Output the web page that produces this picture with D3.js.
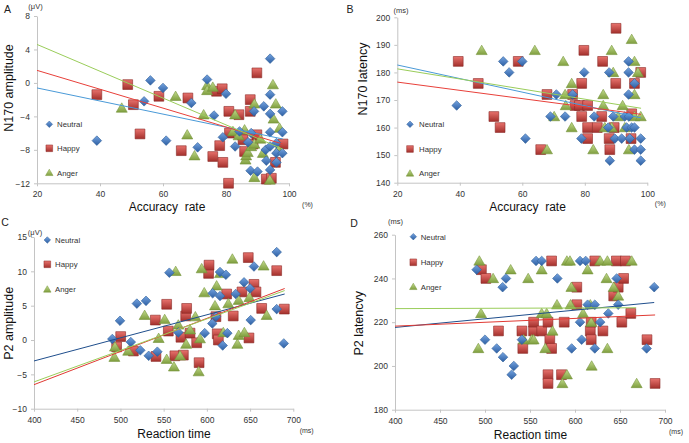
<!DOCTYPE html>
<html>
<head>
<meta charset="utf-8">
<script src="https://cdn.jsdelivr.net/npm/d3@7/dist/d3.min.js"></script>
<style>
  body { margin: 0; background: #fff; }
  svg text { font-family: "Liberation Sans", Arial, sans-serif; }
</style>
</head>
<body>
<div class="chart"></div>
<script>
// ---- data ----
var accTicks = [20, 40, 60, 80, 100];
var rtTicks = [400, 450, 500, 550, 600, 650, 700];
var aYTicks = [-12, -8, -4, 0, 4, 8];
var bYTicks = [140, 150, 160, 170, 180, 190, 200];
var cYTicks = [-10, -5, 0, 5, 10, 15];
var dYTicks = [180, 200, 220, 240, 260];
var seriesNames = ["Neutral", "Happy", "Anger"];

// A: accuracy rate vs N170 amplitude
var aNeutral = [[39,-6.9],[54,-2.2],[56,0.3],[60,-0.6],[61,-6.9],[69,-2.4],[71,-7.7],[74,0.4],[76.2,-3.9],[79,-6.5],[80,-1.3],[82.9,-7.6],[84.3,-5.8],[87,-7.1],[87.8,-10.5],[88,-6.0],[88.9,-3.4],[90,-10.6],[92,-2.8],[92.6,-8.0],[92.8,-9.3],[94,2.9],[94,-1.4],[94,-3.7],[94,-5.9],[94,-7.6],[94,-10.4],[96,-7.2],[96,-8.4],[96,-9.5],[97.9,-3.4],[97.9,-5.9],[97.9,-8.4]];
var aHappy = [[39,-1.4],[48.8,-0.2],[50.6,-2.6],[52.7,-6.1],[58.7,-1.6],[65.8,-8.1],[67.9,-1.8],[75.8,-8.8],[77,-1],[78,-7.5],[78.8,-0.7],[79,-9.5],[80.8,-12],[80.9,-3.4],[81.1,-6.0],[84.1,-3.8],[85.2,-6.2],[85.4,-6.8],[85.9,-8.2],[87.7,-2.0],[87.7,-3.4],[88.6,-7.3],[89.8,1.2],[89.8,-6.2],[92.8,-11.5],[94.4,-11.4],[95.7,-9.5],[98.1,-7.3]];
var aAnger = [[46.9,-3.0],[64,-1.6],[67.7,-6.2],[70,-8.7],[72.9,-3.8],[74,-0.3],[74,-0.9],[75.8,-0.5],[82.2,-5.8],[82.9,-3.8],[84,-6.3],[85.9,-5.6],[86.2,-9.2],[86.4,-8.7],[86.9,-8.3],[88,-7.6],[89,-2.5],[89,-7.3],[89,-11.3],[90.9,-6.7],[91.7,-8.4],[93.9,-11.6],[94.9,-0.2],[95.1,-4.3],[95.8,-2.5],[96.5,-8.0],[97,-5.4]];
var aFits = [[[20,-0.6],[98,-6.7]], [[20,1.5],[98,-7.3]], [[20,4.6],[98,-7.9]]];

// B: accuracy rate vs N170 latency
var bNeutral = [[39,168],[53.9,184],[55.8,180],[60,184],[61,156],[69,164],[70.9,172],[73.7,164],[76.1,172],[78.9,156],[79.8,180],[83,164],[87.5,160],[87.8,180],[88,148],[89.1,164],[89.6,156],[91.8,156],[92.8,164],[93.4,160],[94,184],[94,180],[94,172],[94.1,164],[94.4,156],[95,160],[95.9,160],[95.9,176],[95.9,152],[97.9,156],[97.9,152],[97.9,148]];
var bHappy = [[39.5,184],[45.9,176],[50.9,164],[52.9,160],[58.7,184],[65.9,152],[67.9,172],[76.1,172],[76.9,168],[78.3,168],[79,176],[79,164],[79.7,188],[80.9,168],[80.9,160],[80.9,156],[84,160],[85.4,164],[85.7,184],[87.8,156],[88,152],[89.4,160],[89.9,176],[90,196],[94.8,156],[95,165],[95.9,176],[97.9,180]];
var bAnger = [[47,188],[64,188],[67.9,152],[70.2,164],[73.1,184],[73.7,172],[73.9,168],[75.8,176],[75.8,160],[82.7,152],[85.9,172],[85.9,168],[86.4,160],[88.6,188],[88.6,160],[89.1,180],[90.7,164],[92.1,168],[92.8,160],[94.1,152],[95,192],[95.9,184],[95.9,172],[95.9,164],[97,180],[97.9,164]];
var bFits = [[[20,182.7],[98,163.5]], [[20,176.5],[98,164.8]], [[20,181.3],[98,167]]];

// C: reaction time vs P2 amplitude
var cNeutral = [[490.6,0.15],[499.5,2.8],[512,-0.3],[519,5.3],[523,-1.5],[529.6,5.7],[532.7,-2.3],[542.7,-1.7],[556.6,9.8],[567,1.1],[597.5,1.0],[606.3,2.4],[606.7,6.8],[610.5,3.4],[615.2,9.9],[615.2,6.4],[618.3,-0.8],[622,9.5],[623.7,1.0],[633.3,6.7],[643,8.4],[650,7.5],[650.7,2.9],[654.5,10.7],[680.8,12.8],[680.8,4.5],[689,-0.5]];
var cHappy = [[495.6,-1],[500.3,0.5],[515,-1.6],[540.4,2.9],[541.1,-2.4],[553.5,5.2],[555.4,1.3],[563,-2.3],[570,0.4],[572.8,-2.2],[575.5,3.5],[576.6,4.6],[580.5,1.0],[588.2,-0.4],[591,-3.3],[602,9.7],[602.5,10.9],[610.5,3.4],[612,0.9],[613.3,0.0],[622.9,6.7],[630.5,3.5],[640.6,7.0],[647.9,12],[648.7,0.3],[654.5,8.1],[656.8,7.0],[663.4,4.6],[680.8,10.1],[689.6,4.5]];
var cAnger = [[493,-2.5],[493.7,-1.0],[509,-1.6],[528,3.6],[544.2,0.25],[551.2,3.0],[553.5,-2.8],[561.9,-3.9],[563.9,10],[567,2.2],[569,-2.3],[576,-0.6],[580.5,1.5],[586.7,3.4],[590.5,-4.6],[592,0.2],[594,10.4],[597,6.9],[609.4,5.0],[611.3,7.9],[615.2,9.7],[619,1.1],[624.8,5.3],[629.5,11.8],[635.3,-0.6],[636.8,0.7],[636.8,5.8],[643.4,1.1],[649.2,6.2],[665.6,10.8],[669.2,3.6]];
var cFits = [[[400,-3.05],[690,6.7]], [[400,-6.5],[690,7.5]], [[400,-6.1],[690,7.2]]];

// D: reaction time vs P2 latency
var dNeutral = [[490.7,244],[500,212],[513,208],[519.6,236],[520,204],[523.3,240],[529.6,196],[532,200],[541,212],[556.7,248],[563,248],[580.4,240],[596.3,208],[605.6,248],[605.6,220],[607.4,212],[611.9,248],[614,228],[622,228],[622,208],[628,220],[637,224],[646.3,240],[648,228],[679.6,208],[688,236]];
var dHappy = [[496,244],[501,240],[515,216],[541,216],[542,208],[554,216],[554,220],[563,216],[570,220],[570,196],[570,192],[572,212],[574,248],[574,208],[585,196],[588,220],[602,236],[602,228],[617,216],[618,212],[618,220],[622,248],[631,216],[643,232],[646,248],[648,236],[652,220],[654,240],[656,248],[662,224],[680,212],[689,192]];
var dAnger = [[492.6,208],[493.7,248],[495.6,224],[509,240],[528.5,244],[543,212],[548,240],[552,212],[554,212],[563,244],[563,224],[567,208],[568.5,224],[575,216],[580,228],[586,192],[591,248],[591,196],[594.4,248],[595,228],[596,236],[609,224],[614,244],[617,228],[618,220],[618.5,200],[628,248],[635,240],[636,248],[636,208],[643,236],[648,232],[663,248],[668.5,192]];
var dFits = [[[400,217.6],[688,229]], [[400,218.2],[689,223.3]], [[400,226.2],[668,226.6]]];

// ---- drawing ----
var svg = d3.select(".chart").append("svg")
  .attr("width", 689)
  .attr("height", 443);

var defs = svg.append("defs");
function grad(id, c1, c2) {
  var g = defs.append("linearGradient").attr("id", id)
    .attr("x1", 0).attr("y1", 0).attr("x2", 0).attr("y2", 1);
  g.append("stop").attr("offset", "0%").attr("stop-color", c1);
  g.append("stop").attr("offset", "100%").attr("stop-color", c2);
}
grad("gBlue", "#74a3e0", "#2d5fa3");
grad("gRed", "#e8726d", "#a3302c");
grad("gGreen", "#c3dc8e", "#7f9e3e");

var fills = ["url(#gBlue)", "url(#gRed)", "url(#gGreen)"];
var strokes = ["#2f5f99", "#8c2a27", "#76943a"];

function markerPath(kind, s) {
  if (kind == 0) {
    var r = 4.8 * s;
    return `M0,${-r}L${r},0L0,${r}L${-r},0Z`;
  }
  if (kind == 1) {
    var h = 4.9 * s;
    return `M${-h},${-h}L${h},${-h}L${h},${h}L${-h},${h}Z`;
  }
  var w = 5.5 * s, t = 5.2 * s, b = 4.2 * s;
  return `M0,${-t}L${w},${b}L${-w},${b}Z`;
}

var panels = [
  { letter: "A", unitY: "(\u03bcV)", unitX: "(%)", titleY: "N170 amplitude", titleX: "Accuracy  rate",
    series: [aNeutral, aHappy, aAnger], fits: aFits, fitColors: ["#4a9ad8", "#e8403a", "#9acd5a"],
    xDomain: [20, 100], yDomain: [-12, 8], xTicks: accTicks, yTicks: aYTicks,
    left: 37, right: 289, top: 16, bottom: 183.3,
    letterPos: [7.5, 13.3], unitYPos: [35.5, 9], unitXPos: [307.5, 207], titleYPos: [8.3, 88], titleXPos: [167, 211],
    legend: { x: 49.3, text: 57, ys: [124.3, 148.3, 172.7] } },
  { letter: "B", unitY: "(ms)", unitX: "(%)", titleY: "N170 latency", titleX: "Accuracy  rate",
    series: [bNeutral, bHappy, bAnger], fits: bFits, fitColors: ["#4a9ad8", "#e8403a", "#9acd5a"],
    xDomain: [20, 100], yDomain: [140, 200], xTicks: accTicks, yTicks: bYTicks,
    left: 397.3, right: 647.3, top: 17.3, bottom: 182.7,
    letterPos: [350, 12.7], unitYPos: [401, 13], unitXPos: [660.3, 206], titleYPos: [362.5, 79], titleXPos: [527.5, 211],
    legend: { x: 410, text: 419, ys: [124.3, 149, 173.3] } },
  { letter: "C", unitY: "(\u03bcV)", unitX: "(ms)", titleY: "P2 amplitude", titleX: "Reaction time",
    series: [cNeutral, cHappy, cAnger], fits: cFits, fitColors: ["#1f4e8c", "#e03a33", "#9acd5a"],
    xDomain: [400, 700], yDomain: [-10, 15], xTicks: rtTicks, yTicks: cYTicks,
    left: 34, right: 293.3, top: 237, bottom: 408.7,
    letterPos: [5, 226], unitYPos: [35, 235], unitXPos: [306.7, 433], titleYPos: [8.3, 323.3], titleXPos: [174, 437.5],
    legend: { x: 47.3, text: 55, ys: [240, 264.3, 289.3] } },
  { letter: "D", unitY: "(ms)", unitX: "(ms)", titleY: "P2 latencvy", titleX: "Reaction time",
    series: [dNeutral, dHappy, dAnger], fits: dFits, fitColors: ["#1f4e8c", "#e03a33", "#9acd5a"],
    xDomain: [400, 700], yDomain: [180, 260], xTicks: rtTicks, yTicks: dYTicks,
    left: 395, right: 665, top: 234.7, bottom: 409.7,
    letterPos: [354, 226.7], unitYPos: [395.5, 224], unitXPos: [676, 433.5], titleYPos: [358.8, 323.3], titleXPos: [530.5, 438.5],
    legend: { x: 413.3, text: 420.7, ys: [236.7, 262.3, 286.7] } }
];

panels.forEach(function(p) {
  var g = svg.append("g");
  var x = d3.scaleLinear().domain(p.xDomain).range([p.left, p.right]);
  var y = d3.scaleLinear().domain(p.yDomain).range([p.bottom, p.top]);

  var yAxis = g.append("g")
    .attr("transform", `translate(${p.left},0)`)
    .call(d3.axisLeft(y).tickValues(p.yTicks).tickSize(3).tickSizeOuter(0).tickPadding(4));
  var xAxis = g.append("g")
    .attr("transform", `translate(0,${p.bottom})`)
    .call(d3.axisBottom(x).tickValues(p.xTicks).tickSize(3).tickSizeOuter(0).tickPadding(5));
  [xAxis, yAxis].forEach(function(a) {
    a.select(".domain").attr("stroke", "#c4c4c4");
    a.selectAll(".tick line").attr("stroke", "#c4c4c4");
    a.selectAll(".tick text").attr("fill", "#333").style("font-size", "8.5px")
      .style("font-family", "'Liberation Sans', Arial, sans-serif");
  });

  // markers: Happy, Anger, then Neutral on top
  [1, 2, 0].forEach(function(k) {
    g.append("g").selectAll("path")
      .data(p.series[k])
      .enter()
      .append("path")
      .attr("transform", d => `translate(${x(d[0])},${y(d[1])})`)
      .attr("d", markerPath(k, 1))
      .attr("fill", fills[k])
      .attr("stroke", strokes[k])
      .attr("stroke-width", 0.6);
  });

  // trend lines
  var line = d3.line().x(d => x(d[0])).y(d => y(d[1]));
  p.fits.forEach(function(f, k) {
    g.append("path")
      .attr("d", line(f))
      .attr("fill", "none")
      .attr("stroke", p.fitColors[k])
      .attr("stroke-width", 1);
  });

  // legend
  seriesNames.forEach(function(name, k) {
    g.append("path")
      .attr("transform", `translate(${p.legend.x},${p.legend.ys[k]})`)
      .attr("d", markerPath(k, 0.68))
      .attr("fill", fills[k])
      .attr("stroke", strokes[k])
      .attr("stroke-width", 0.5);
    g.append("text")
      .attr("x", p.legend.text)
      .attr("y", p.legend.ys[k] + 3)
      .attr("fill", "#333")
      .style("font-size", "7.8px")
      .text(name);
  });

  // labels
  g.append("text")
    .attr("x", p.letterPos[0]).attr("y", p.letterPos[1])
    .attr("text-anchor", "middle").attr("fill", "#222")
    .style("font-size", "10.5px")
    .text(p.letter);
  g.append("text")
    .attr("x", p.unitYPos[0]).attr("y", p.unitYPos[1])
    .attr("text-anchor", "middle").attr("fill", "#333")
    .style("font-size", "7.5px")
    .text(p.unitY);
  g.append("text")
    .attr("x", p.unitXPos[0]).attr("y", p.unitXPos[1])
    .attr("text-anchor", "middle").attr("fill", "#333")
    .style("font-size", "7px")
    .text(p.unitX);
  g.append("text")
    .attr("transform", `translate(${p.titleYPos[0]},${p.titleYPos[1]}) rotate(-90)`)
    .attr("text-anchor", "middle").attr("dy", "0.35em").attr("fill", "#111")
    .style("font-size", "12.5px")
    .text(p.titleY);
  g.append("text")
    .attr("x", p.titleXPos[0]).attr("y", p.titleXPos[1])
    .attr("text-anchor", "middle").attr("fill", "#111")
    .style("font-size", "12px")
    .style("white-space", "pre")
    .text(p.titleX);
});
</script>
</body>
</html>
